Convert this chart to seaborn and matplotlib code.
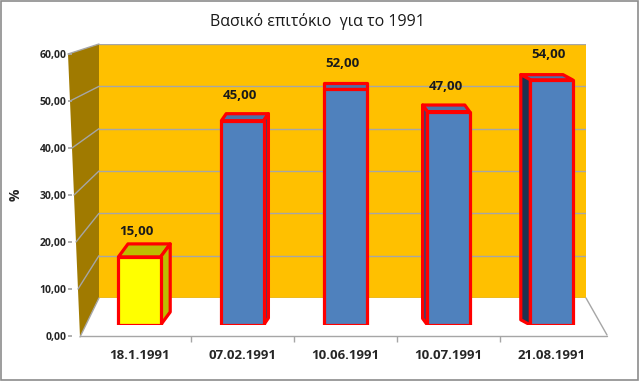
import matplotlib
matplotlib.use("Agg")
import matplotlib.pyplot as plt
import seaborn as sns
import numpy as np
from matplotlib.patches import Polygon, Rectangle
from matplotlib.lines import Line2D

# ---- data ----
dates = ["18.1.1991", "07.02.1991", "10.06.1991", "10.07.1991", "21.08.1991"]
values = [15.0, 45.0, 52.0, 47.0, 54.0]
bar_colors = ["#FFFF00", "#4F81BD", "#4F81BD", "#4F81BD", "#4F81BD"]
top_colors = ["#BDBD00", "#4A73A8", "#4A73A8", "#4A73A8", "#4A73A8"]
side_colors = ["#BDBD00", "#2C4A75", "#2C4A75", "#2C4A75", "#1F3350"]
yticks = [0, 10, 20, 30, 40, 50, 60]
title = "Βασικό επιτόκιο  για το 1991"
ylabel = "%"

sns.set_theme(style="white")
plt.rcParams['font.family'] = ['Open Sans', 'DejaVu Sans']

W, H = 639, 381
fig = plt.figure(figsize=(W / 100, H / 100), dpi=100)
fig.patch.set_facecolor("white")

def fx(x):
    return x / W

def fy(y):
    return 1 - y / H

def pts(lst):
    return [(fx(a), fy(b)) for a, b in lst]

# border
fig.add_artist(Rectangle((0.001, 0.002), 0.997, 0.995, transform=fig.transFigure,
                         fill=False, edgecolor="#8C8C8C", linewidth=1.2, zorder=10))

# back wall axes
ax_back = fig.add_axes([fx(99), fy(298), fx(586) - fx(99), fy(44) - fy(298)])
ax_back.set_zorder(-10)
ax_back.set_facecolor("#FFC000")
ax_back.set_ylim(0, 60)
ax_back.set_xlim(0, 1)
ax_back.set_yticks(yticks)
ax_back.set_xticks([])
ax_back.tick_params(axis="y", length=0, labelleft=False)
ax_back.grid(axis="y", color="#A6A6A6", linewidth=1.0)
for s in ax_back.spines.values():
    s.set_visible(False)

# side wall
fig.add_artist(Polygon(pts([(68, 54), (99, 44), (99, 298), (80, 337)]),
                       closed=True, transform=fig.transFigure,
                       facecolor="#A07A00", edgecolor="none", zorder=-8))
# floor
fig.add_artist(Polygon(pts([(80, 337), (99, 298), (586, 298), (607, 335)]),
                       closed=True, transform=fig.transFigure,
                       facecolor="white", edgecolor="none", zorder=-8))
for seg in [[(80, 337), (99, 298)], [(586, 298), (607, 335)], [(80, 336), (607, 336)]]:
    (a, b), (c, d) = seg
    fig.add_artist(Line2D([fx(a), fx(c)], [fy(b), fy(d)], transform=fig.transFigure,
                          color="#A6A6A6", linewidth=1.0, zorder=-7))

# tick axis on front edge of side wall
ax_t = fig.add_axes([fx(72), fy(336), 0.0001, fy(54) - fy(336)])
ax_t.set_zorder(-6)
ax_t.set_ylim(0, 60)
ax_t.set_yticks(yticks)
ax_t.set_yticklabels([f"{v:.2f}".replace(".", ",") for v in yticks],
                     fontsize=7.5, fontweight="bold", color="#262626")
ax_t.set_xticks([])
ax_t.tick_params(axis="y", length=3, color="#A6A6A6", pad=1, left=True)
for s in ax_t.spines.values():
    s.set_visible(False)
ax_t.set_facecolor("none")
ax_t.set_ylabel(ylabel, fontsize=10, fontweight="bold", labelpad=12)

# side wall gridlines (connect front-edge ticks to back wall grid)
fig.canvas.draw()
inv = fig.transFigure.inverted()
for v in yticks[1:]:
    yf = ax_t.transData.transform((0, v))[1]
    yb = ax_back.transData.transform((0, v))[1]
    xf = (80 - 12 * v / 60)
    p1 = inv.transform((fx(xf) * fig.bbox.width, yf))
    p2 = inv.transform((fx(99) * fig.bbox.width, yb))
    fig.add_artist(Line2D([p1[0], p2[0]], [p1[1], p2[1]], transform=fig.transFigure,
                          color="#A6A6A6", linewidth=1.0, zorder=-7))

# main bar axes
ax = fig.add_axes([fx(88), fy(325), fx(603) - fx(88), fy(52.6) - fy(325)])
ax.set_zorder(1)
ax.set_facecolor("none")
sns.barplot(x=dates, y=values, hue=dates, palette=bar_colors, legend=False,
            width=0.41, edgecolor="#FF0000", linewidth=2.3, saturation=1, ax=ax, zorder=5)
ax.spines["bottom"].set_position(("outward", 8))
ax.set_xlim(-0.5, 4.5)
ax.set_ylim(0, 60)
ax.set_yticks([])
for s in ["left", "right", "top", "bottom"]:
    ax.spines[s].set_visible(False)
ax.set_xticks(range(len(dates)))
ax.set_xticklabels(dates, fontsize=9.5, fontweight="bold", color="#262626")
ax.set_xticks([0.5, 1.5, 2.5, 3.5], minor=True)
ax.tick_params(axis="x", which="major", length=0, pad=9)
ax.tick_params(axis="x", which="minor", length=4, width=1, color="#A6A6A6", pad=0,
               bottom=True, direction="out")
ax.set_xlabel("")
ax.set_ylabel("")

# 3D faces
fig.canvas.draw()
p0 = ax.transData.transform((0, 0))
ppx = ax.transData.transform((1, 0))[0] - p0[0]
ppy = ax.transData.transform((0, 1))[1] - p0[1]
bars = [p for p in ax.patches][:len(values)]
for i, patch in enumerate(bars):
    x0 = patch.get_x()
    w = patch.get_width()
    h = patch.get_height()
    x1 = x0 + w
    xc = x0 + w / 2
    dx = (2 - xc) * 4.8 / ppx
    dy = 16 * (1 - h / 80) / ppy
    top = Polygon([(x0, h), (x1, h), (x1 + dx, h + dy), (x0 + dx, h + dy)], closed=True,
                  facecolor=top_colors[i], edgecolor="#FF0000", linewidth=2.3, zorder=4,
                  joinstyle="round")
    ax.add_patch(top)
    if dx > 0.001:
        side = Polygon([(x1, 0), (x1, h), (x1 + dx, h + dy), (x1 + dx, dy)], closed=True,
                       facecolor=side_colors[i], edgecolor="#FF0000", linewidth=2.3, zorder=4,
                       joinstyle="round")
        ax.add_patch(side)
    elif dx < -0.001:
        side = Polygon([(x0, 0), (x0, h), (x0 + dx, h + dy), (x0 + dx, dy)], closed=True,
                       facecolor=side_colors[i], edgecolor="#FF0000", linewidth=2.3, zorder=4,
                       joinstyle="round")
        ax.add_patch(side)
    patch.set_joinstyle("round")
    ax.annotate(f"{values[i]:.2f}".replace(".", ","), (xc, h), xytext=(-2, 18),
                textcoords="offset points", ha="center", va="center",
                fontsize=9.5, fontweight="bold", color="#1A1A1A", zorder=6)

fig.text(fx(317), fy(22), title, ha="center", va="center", fontsize=11.5, color="#1A1A1A")

fig.savefig("out.png", dpi=100)
